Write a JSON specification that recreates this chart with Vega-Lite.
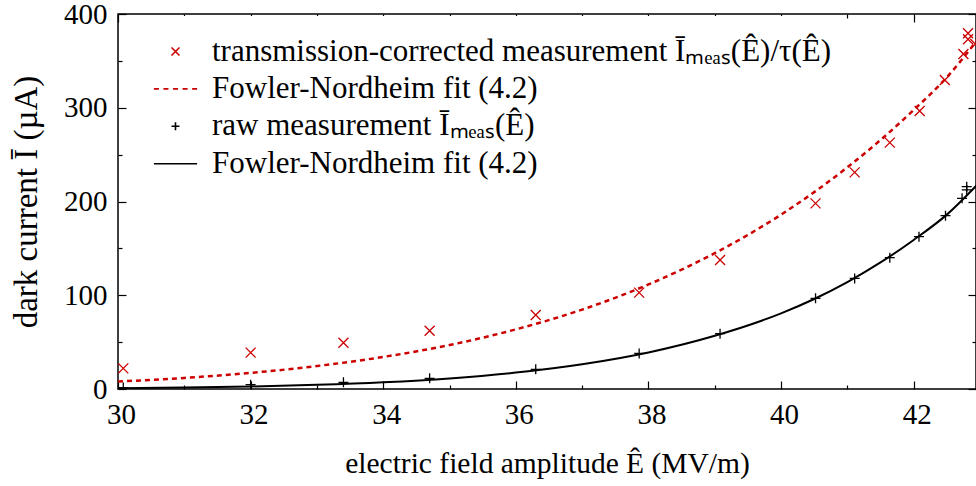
{
  "$schema": "https://vega.github.io/schema/vega-lite/v6.json",
  "width": 858,
  "height": 375,
  "autosize": {"type": "none"},
  "padding": {"left": 118, "top": 14, "right": 0, "bottom": 97},
  "config": {
    "font": "Liberation Serif",
    "view": {"stroke": "#000000", "strokeWidth": 1.5},
    "axis": {
      "labelFont": "Liberation Serif", "labelFontSize": 29, "labelColor": "#000000",
      "titleFont": "Liberation Serif", "titleFontSize": 29, "titleFontWeight": "normal", "titleColor": "#000000",
      "domain": false, "tickColor": "#000000", "tickWidth": 1.2, "zindex": 0,
      "gridColor": "#808080", "gridDash": [5, 4], "gridWidth": 1
    }
  },
  "resolve": {"axis": {"x": "independent", "y": "independent"}},
  "layer": [
    {
      "data": {"values": [{}]},
      "mark": {"type": "rect", "fill": "#ffffff"},
      "encoding": {
        "x": {"datum": 30.35, "type": "quantitative", "axis": null},
        "x2": {"datum": 40.2},
        "y": {"datum": 398, "type": "quantitative", "axis": null},
        "y2": {"datum": 210}
      }
    },
    {
      "data": {"values": [
        {"E": 30, "I": 8.0}, {"E": 31, "I": 11.8}, {"E": 32, "I": 17.2},
        {"E": 33, "I": 24.5}, {"E": 34, "I": 34.2}, {"E": 35, "I": 46.9},
        {"E": 36, "I": 63.6}, {"E": 37, "I": 84.7}, {"E": 38, "I": 111.5},
        {"E": 39, "I": 144.9}, {"E": 40, "I": 186}, {"E": 40.5, "I": 210},
        {"E": 41, "I": 236.5}, {"E": 41.5, "I": 265.6}, {"E": 42, "I": 297.6},
        {"E": 42.5, "I": 332.5}, {"E": 43, "I": 376}
      ]},
      "mark": {"type": "line", "color": "#cc0000", "strokeWidth": 2.5, "strokeDash": [5, 4], "interpolate": "monotone", "clip": true},
      "encoding": {
        "x": {"field": "E", "type": "quantitative", "axis": null},
        "y": {"field": "I", "type": "quantitative", "axis": null}
      }
    },
    {
      "data": {"values": [
        {"E": 30, "I": 0.9}, {"E": 31, "I": 1.6}, {"E": 32, "I": 2.7},
        {"E": 33, "I": 4.5}, {"E": 34, "I": 7.2}, {"E": 35, "I": 11.3},
        {"E": 36, "I": 17.5}, {"E": 37, "I": 26.4}, {"E": 38, "I": 39.0},
        {"E": 39, "I": 56.8}, {"E": 40, "I": 80.7}, {"E": 40.5, "I": 96},
        {"E": 41, "I": 114}, {"E": 41.5, "I": 135}, {"E": 42, "I": 159},
        {"E": 42.5, "I": 186}, {"E": 43, "I": 221}
      ]},
      "mark": {"type": "line", "color": "#000000", "strokeWidth": 2, "interpolate": "monotone", "clip": true},
      "encoding": {
        "x": {
          "field": "E", "type": "quantitative",
          "axis": {
            "orient": "top", "values": [30, 31, 32, 33, 34, 35, 36, 37, 38, 39, 40, 41, 42],
            "labels": false, "grid": false, "title": null,
            "tickSize": {"condition": {"test": "datum.value % 2 === 0", "value": -8}, "value": -4}
          }
        },
        "y": {
          "field": "I", "type": "quantitative",
          "axis": {
            "orient": "right", "values": [0, 50, 100, 150, 200, 250, 300, 350, 400],
            "labels": false, "grid": false, "title": null,
            "tickSize": {"condition": {"test": "datum.value % 100 === 0", "value": -8}, "value": -4}
          }
        }
      }
    },
    {
      "data": {"values": [
        {"E": 30.08, "I": 22.0, "s": "a"}, {"E": 32.0, "I": 38.8, "s": "a"}, {"E": 33.4, "I": 49.4, "s": "a"},
        {"E": 34.7, "I": 62.2, "s": "a"}, {"E": 36.3, "I": 79.0, "s": "a"}, {"E": 37.86, "I": 102.8, "s": "a"},
        {"E": 39.08, "I": 137.6, "s": "a"}, {"E": 40.52, "I": 198.0, "s": "a"}, {"E": 41.11, "I": 231.1, "s": "a"},
        {"E": 41.64, "I": 262.8, "s": "a"}, {"E": 42.09, "I": 296.5, "s": "a"}, {"E": 42.47, "I": 329.6, "s": "a"},
        {"E": 42.75, "I": 357.3, "s": "a"}, {"E": 42.82, "I": 373.1, "s": "a"}, {"E": 42.82, "I": 379.5, "s": "a"},
        {"E": 42.93, "I": 368, "s": "a"},
        {"E": 30.08, "I": 1.5, "s": "c"}, {"E": 32.0, "I": 4.6, "s": "c"}, {"E": 33.4, "I": 7.1, "s": "c"},
        {"E": 34.7, "I": 11.4, "s": "c"}, {"E": 36.3, "I": 21.0, "s": "c"}, {"E": 37.86, "I": 38.0, "s": "c"},
        {"E": 39.08, "I": 59.0, "s": "c"}, {"E": 40.52, "I": 96.7, "s": "c"}, {"E": 41.11, "I": 118.0, "s": "c"},
        {"E": 41.64, "I": 140.1, "s": "c"}, {"E": 42.08, "I": 162.5, "s": "c"}, {"E": 42.48, "I": 184.9, "s": "c"},
        {"E": 42.73, "I": 203.4, "s": "c"}, {"E": 42.8, "I": 212.3, "s": "c"}, {"E": 42.8, "I": 215.8, "s": "c"}
      ]},
      "mark": {"type": "point", "filled": false, "strokeWidth": 1.3, "size": 100, "opacity": 1, "clip": true},
      "encoding": {
        "x": {
          "field": "E", "type": "quantitative",
          "scale": {"domain": [30, 42.94], "nice": false, "zero": false},
          "axis": {
            "orient": "bottom",
            "values": [30, 31, 32, 33, 34, 35, 36, 37, 38, 39, 40, 41, 42],
            "format": "d",
            "labelExpr": "datum.value % 2 === 0 ? datum.label : ''",
            "labelFont": "Liberation Serif",
            "tickSize": {"condition": {"test": "datum.value % 2 === 0", "value": -8}, "value": -4},
            "gridOpacity": {"condition": {"test": "datum.value % 2 === 0", "value": 1}, "value": 0},
            "labelPadding": 19, "labelFlush": false, "labelOffset": 3,
            "title": "electric field amplitude Ê (MV/m)", "titlePadding": 20, "titleFontSize": 29.5
          }
        },
        "y": {
          "field": "I", "type": "quantitative",
          "scale": {"domain": [0, 400], "nice": false},
          "axis": {
            "orient": "left",
            "values": [0, 50, 100, 150, 200, 250, 300, 350, 400],
            "format": "d",
            "labelExpr": "datum.value % 100 === 0 ? datum.label : ''",
            "labelFont": "Liberation Serif",
            "tickSize": {"condition": {"test": "datum.value % 100 === 0", "value": -8}, "value": -4},
            "gridOpacity": {"condition": {"test": "datum.value % 100 === 0 && datum.value > 0 && datum.value < 400", "value": 1}, "value": 0},
            "labelPadding": 19,
            "title": "dark current Ī (µA)", "titlePadding": 20, "titleFontSize": 33
          }
        },
        "color": {
          "field": "s", "type": "nominal",
          "scale": {"domain": ["a", "b", "c", "d"], "range": ["#cc0000", "#cc0000", "#000000", "#000000"]},
          "legend": {
            "title": null, "orient": "none", "legendX": 24, "legendY": 22, "padding": 0,
            "symbolSize": 64, "symbolStrokeWidth": 1.6, "symbolOffset": 18, "symbolOpacity": 1,
            "labelOffset": 21, "labelFont": "Liberation Serif", "labelFontSize": 31, "labelColor": "#000000",
            "labelLimit": 1000, "rowPadding": 5.4,
            "labelExpr": "datum.value === 'a' ? 'transmission-corrected measurement Īₘₑₐₛ(Ê)/τ(Ê)' : datum.value === 'c' ? 'raw measurement Īₘₑₐₛ(Ê)' : 'Fowler-Nordheim fit (4.2)'"
          }
        },
        "shape": {
          "field": "s", "type": "nominal",
          "scale": {"domain": ["a", "b", "c", "d"], "range": ["M-1,-1L1,1M-1,1L1,-1", "M-5.4,0L-4.15,0M-3.01,0L-1.76,0M-0.62,0L0.63,0M1.77,0L3.02,0M4.16,0L5.4,0", "M-1,0L1,0M0,-1L0,1", "M-5.4,0L5.4,0"]},
          "legend": {
            "title": null, "orient": "none", "legendX": 24, "legendY": 22, "padding": 0,
            "symbolSize": 64, "symbolStrokeWidth": 1.6, "symbolOffset": 18, "symbolOpacity": 1,
            "labelOffset": 21, "labelFont": "Liberation Serif", "labelFontSize": 31, "labelColor": "#000000",
            "labelLimit": 1000, "rowPadding": 5.4,
            "labelExpr": "datum.value === 'a' ? 'transmission-corrected measurement Īₘₑₐₛ(Ê)/τ(Ê)' : datum.value === 'c' ? 'raw measurement Īₘₑₐₛ(Ê)' : 'Fowler-Nordheim fit (4.2)'"
          }
        }
      }
    }
  ]
}
